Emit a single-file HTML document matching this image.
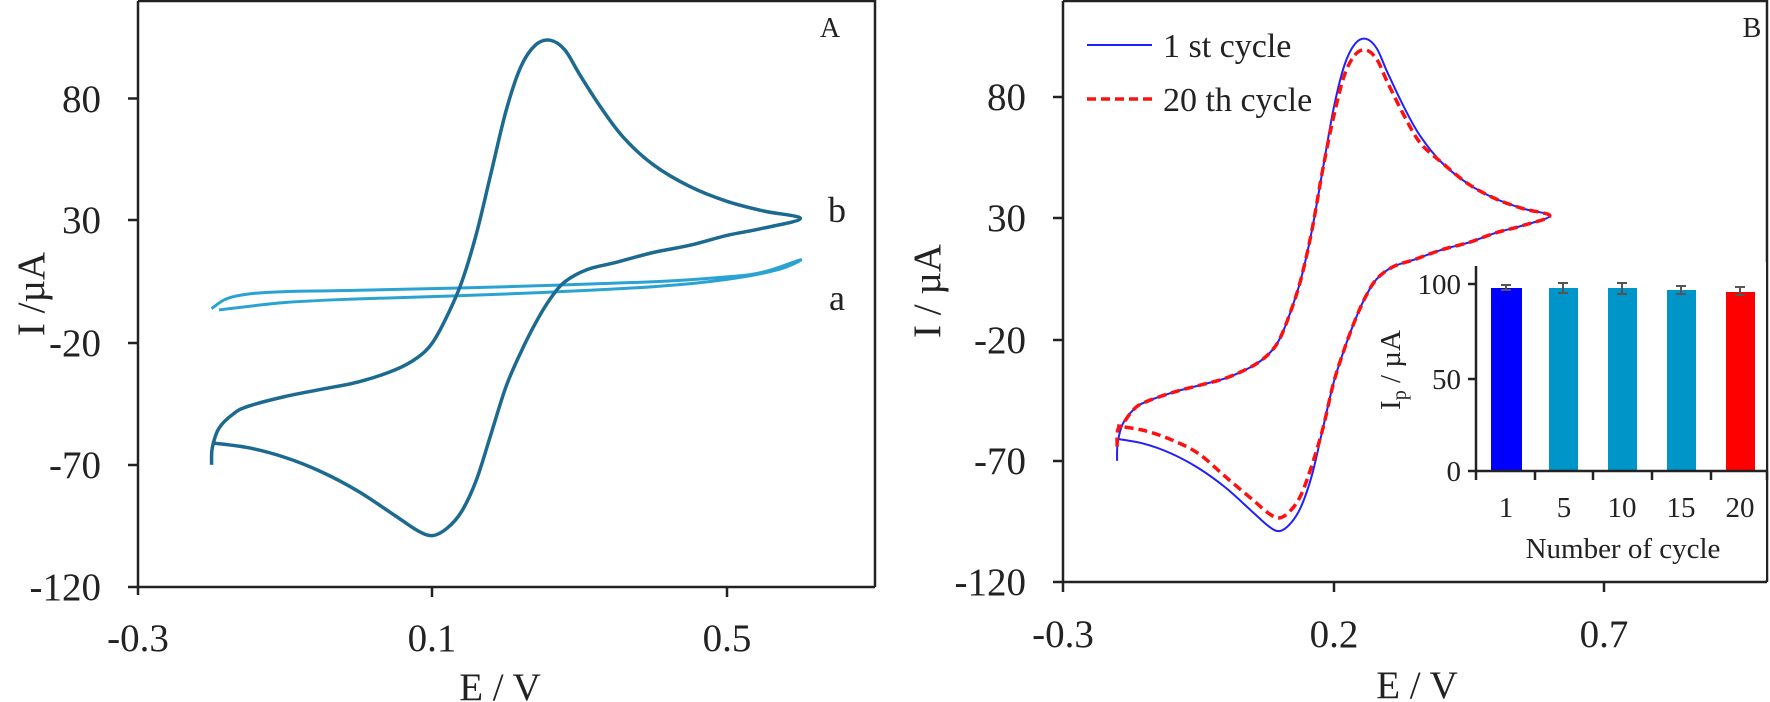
<!DOCTYPE html>
<html><head><meta charset="utf-8"><style>
html,body{margin:0;padding:0;background:#fff;}
svg{display:block;font-family:"Liberation Serif",serif;}
</style></head><body>
<svg id="s" width="1770" height="702" viewBox="0 0 1770 702" xmlns="http://www.w3.org/2000/svg">
<rect width="1770" height="702" fill="#fff"/>
<!-- Panel A frame -->
<g stroke="#222" stroke-width="2.5" fill="none">
<path d="M138,1 H875 V587"/>
<path d="M138,1 V595"/>
<path d="M128,587 H875"/>
<path d="M128,98.5 H138 M128,220 H138 M128,343 H138 M128,465 H138"/>
<path d="M432,587 V597 M727,587 V597"/>
</g>
<g font-size="39" fill="#222" text-anchor="end">
<text x="101" y="112">80</text><text x="101" y="233">30</text><text x="101" y="356">-20</text><text x="101" y="478">-70</text><text x="101" y="600">-120</text>
</g>
<g font-size="39" fill="#222" text-anchor="middle">
<text x="138" y="651">-0.3</text><text x="432" y="651">0.1</text><text x="727" y="651">0.5</text>
<text x="500" y="700">E / V</text>
<text transform="translate(44,294) rotate(-90)">I /µA</text>
</g>
<text x="830" y="37" font-size="28" text-anchor="middle" fill="#222">A</text>
<text x="837" y="222" font-size="36" text-anchor="middle" fill="#222">b</text>
<text x="837" y="310" font-size="36" text-anchor="middle" fill="#222">a</text>
<path id="ca" fill="none" stroke="#2aa3d3" stroke-width="3"/>
<path id="cb" fill="none" stroke="#1d6a90" stroke-width="3.5"/>

<!-- Panel B frame -->
<g stroke="#222" stroke-width="2.5" fill="none">
<path d="M1063,1 H1767 V582"/>
<path d="M1063,1 V592"/>
<path d="M1053,582 H1767"/>
<path d="M1053,97 H1063 M1053,218 H1063 M1053,340 H1063 M1053,461 H1063"/>
<path d="M1334,582 V592 M1604,582 V592"/>
</g>
<g font-size="39" fill="#222" text-anchor="end">
<text x="1026" y="110">80</text><text x="1026" y="231">30</text><text x="1026" y="353">-20</text><text x="1026" y="474">-70</text><text x="1026" y="595">-120</text>
</g>
<g font-size="39" fill="#222" text-anchor="middle">
<text x="1063" y="647">-0.3</text><text x="1334" y="647">0.2</text><text x="1604" y="647">0.7</text>
<text x="1417" y="698">E / V</text>
<text transform="translate(940,291) rotate(-90)">I / µA</text>
</g>
<text x="1752" y="37" font-size="28" text-anchor="middle" fill="#222">B</text>
<line x1="1087" y1="45" x2="1152" y2="45" stroke="#2020ff" stroke-width="2"/>
<line x1="1087" y1="99" x2="1152" y2="99" stroke="#ff1010" stroke-width="3.5" stroke-dasharray="9,5"/>
<text x="1163" y="57" font-size="34" fill="#222">1 st cycle</text>
<text x="1163" y="111" font-size="34" fill="#222">20 th cycle</text>
<path id="c1" fill="none" stroke="#2020ff" stroke-width="2"/>
<path id="c20" fill="none" stroke="#ff1010" stroke-width="3.5" stroke-dasharray="9,5"/>

<!-- inset -->
<rect x="1477" y="262" width="289" height="318" fill="#fff"/>
<g>
<rect x="1491" y="288" width="31" height="183" fill="#0000ff"/>
<rect x="1549" y="288" width="29" height="183" fill="#0095c8"/>
<rect x="1608" y="288" width="29" height="183" fill="#0095c8"/>
<rect x="1667" y="290" width="29" height="181" fill="#0095c8"/>
<rect x="1726" y="292" width="29" height="179" fill="#ff0000"/>
</g>
<g stroke="#555" stroke-width="2" fill="none">
<path d="M1506,285 V290 M1501,285 H1511 M1501,290 H1511"/>
<path d="M1563,283 V293 M1558,283 H1568 M1558,293 H1568"/>
<path d="M1622,283 V294 M1617,283 H1627 M1617,294 H1627"/>
<path d="M1681,286 V294 M1676,286 H1686 M1676,294 H1686"/>
<path d="M1740,287 V295 M1735,287 H1745 M1735,295 H1745"/>
</g>
<g stroke="#222" stroke-width="2.5" fill="none">
<path d="M1476,266 V471 M1468,284 H1476 M1468,379 H1476 M1468,471 H1767"/>
<path d="M1476,471 V480 M1535,471 V480 M1593,471 V480 M1652,471 V480 M1711,471 V480 M1767,471 V480"/>
</g>
<g font-size="29" fill="#222" text-anchor="end">
<text x="1461" y="294">100</text><text x="1461" y="389">50</text><text x="1461" y="481">0</text>
</g>
<g font-size="29" fill="#222" text-anchor="middle">
<text x="1506" y="517">1</text><text x="1564" y="517">5</text><text x="1622" y="517">10</text><text x="1681" y="517">15</text><text x="1740" y="517">20</text>
<text x="1623" y="558">Number of cycle</text>
<text transform="translate(1400,370) rotate(-90)">I<tspan font-size="20" dy="6">p</tspan><tspan dy="-6"> / µA</tspan></text>
</g>
</svg>
<script>
function cr(pts){var d="M"+pts[0][0].toFixed(1)+","+pts[0][1].toFixed(1);
for(var i=0;i<pts.length-1;i++){var p0=pts[i-1]||pts[i],p1=pts[i],p2=pts[i+1],p3=pts[i+2]||p2;
var c1=[p1[0]+(p2[0]-p0[0])/6,p1[1]+(p2[1]-p0[1])/6],c2=[p2[0]-(p3[0]-p1[0])/6,p2[1]-(p3[1]-p1[1])/6];
d+=" C"+c1[0].toFixed(1)+","+c1[1].toFixed(1)+" "+c2[0].toFixed(1)+","+c2[1].toFixed(1)+" "+p2[0].toFixed(1)+","+p2[1].toFixed(1);}
return d;}
var B=[[-0.2,-70],[-0.199,-63],[-0.19,-55],[-0.17,-49],[-0.15,-46],[-0.1,-42],[-0.05,-39],[0,-36],[0.05,-31],[0.08,-26],[0.1,-20],[0.12,-9],[0.14,5],[0.16,25],[0.18,50],[0.2,75],[0.22,93],[0.24,102],[0.26,104],[0.28,100],[0.3,90],[0.33,76],[0.36,64],[0.4,53],[0.45,44],[0.5,38],[0.55,34],[0.6,31],
[0.55,27],[0.5,24],[0.45,20],[0.4,17],[0.35,13],[0.31,10],[0.28,5],[0.26,-2],[0.24,-12],[0.22,-24],[0.2,-38],[0.18,-57],[0.16,-76],[0.14,-89],[0.12,-96],[0.1,-99],[0.08,-97],[0.05,-91],[0,-81],[-0.05,-73],[-0.1,-67],[-0.15,-63],[-0.2,-61]];
var A=[[-0.19,-6.5],[-0.1,-3.5],[0,-2],[0.2,0],[0.4,3],[0.5,6],[0.57,10],[0.6,14],[0.55,9],[0.5,7],[0.4,5],[0.2,3],[0,1.5],[-0.1,1],[-0.15,0],[-0.18,-2],[-0.2,-6]];
function map(d,x0,sx,y0,sy,k){return d.map(function(p){var I=p[1];if(k){I=I*k;}return [x0+(p[0]+0.3)*sx,y0-I*sy];});}
document.getElementById("cb").setAttribute("d",cr(map(B,138,736,294,2.44)));
document.getElementById("ca").setAttribute("d",cr(map(A,138,736,294,2.44)));
document.getElementById("c1").setAttribute("d",cr(map(B,1063,541,291,2.425)));
var B20=B.map(function(p){var I=p[1];if(I>60)I=I*0.955;else if(I<-60)I=I*0.945+ (p[0]<0?2:0);return [p[0],I];});
document.getElementById("c20").setAttribute("d",cr(map(B20,1063,541,291,2.425)));
</script>
</body></html>
